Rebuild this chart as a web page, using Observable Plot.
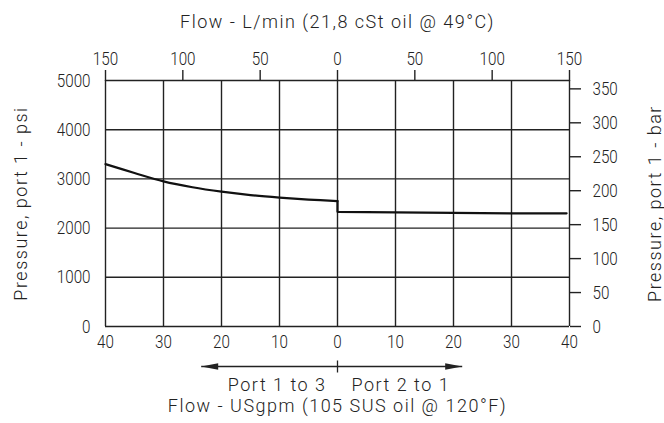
<!DOCTYPE html>
<html><head><meta charset="utf-8">
<script src="https://cdn.jsdelivr.net/npm/d3@7"></script>
<script src="https://cdn.jsdelivr.net/npm/@observablehq/plot@0.6"></script>
<style>
body{margin:0;background:#fff}
#chart svg{display:block;background:#fff}
#chart g[aria-label$="tick label"]{font-family:Roboto,sans-serif;font-weight:300;font-size:19px;fill:#222}
#chart g[aria-label="text"] text{letter-spacing:1.5px}
</style></head><body><div id="chart"></div>
<script>
// ---- data ----
const gpmTicks = [-40,-30,-20,-10,0,10,20,30,40];
const psiTicks = [0,1000,2000,3000,4000,5000];
const lpmTicks = [-150,-100,-50,0,50,100,150];
const barTicks = [0,50,100,150,200,250,300,350];
const port13Flow = [-40,-35,-30,-25,-20,-15,-10,-5,0];
const port13Psi  = [3300,3120,2950,2830,2740,2670,2620,2580,2550];
const port21Flow = [0,0,10,20,30,39.5];
const port21Psi  = [2550,2330,2320,2310,2300,2300];
const arrowFlow = [-23.5, 21.5];
const arrowLabels = ["Port 1 to 3","Port 2 to 1"];
// secondary-axis ratios as drawn in the reference
const LPM_PER_GPM = 3.75, PSI_PER_BAR = 13.8;
const titleTop = "Flow - L/min (21,8 cSt oil @ 49°C)";
const titleBottom = "Flow - USgpm (105 SUS oil @ 120°F)";
const labelLeft = "Pressure, port 1 - psi";
const labelRight = "Pressure, port 1 - bar";

const port13 = port13Flow.map((x,i)=>({x, y: port13Psi[i]}));
const port21 = port21Flow.map((x,i)=>({x, y: port21Psi[i]}));

const ink = "#222";
const headSymbol = {draw(ctx){ctx.moveTo(0,0);ctx.lineTo(-17,-3.2);ctx.lineTo(-17,3.2);ctx.closePath();}};
const barSymbol = {draw(ctx){ctx.moveTo(0,-6);ctx.lineTo(0,6);}};
const labelFont = {fontFamily:"Roboto,sans-serif", fontWeight:300, fontSize:18, fill:"#222", lineAnchor:"middle", textAnchor:"middle"};

const chart = Plot.plot({
  width: 664, height: 423,
  marginLeft: 105, marginRight: 95, marginTop: 80, marginBottom: 97,
  x: {domain: [-40, 40]},
  y: {domain: [0, 5000]},
  marks: [
    Plot.ruleX(gpmTicks, {stroke: ink, strokeWidth: 1.4}),
    Plot.ruleY(psiTicks, {stroke: ink, strokeWidth: 1.4}),
    Plot.line(port13, {x:"x", y:"y", curve:"catmull-rom", stroke:"#111", strokeWidth:2.2}),
    Plot.line(port21, {x:"x", y:"y", stroke:"#111", strokeWidth:2.2}),
    Plot.axisX({anchor:"bottom", ticks: gpmTicks, tickFormat: d=>String(Math.abs(d)), tickSize:0, tickPadding:8, label:null}),
    Plot.axisX({anchor:"top", ticks: lpmTicks.map(d=>d/LPM_PER_GPM), tickFormat: d=>String(Math.round(Math.abs(d*LPM_PER_GPM))), tickSize:11, tickPadding:5, stroke: ink, strokeWidth:1.4, label:null}),
    Plot.axisY({anchor:"left", ticks: psiTicks, tickFormat: d=>String(d), tickSize:0, tickPadding:15, label:null}),
    Plot.axisY({anchor:"right", ticks: barTicks.map(b=>b*PSI_PER_BAR), tickFormat: d=>String(Math.round(d/PSI_PER_BAR)), tickSize:11, tickPadding:12, stroke: ink, strokeWidth:1.4, label:null}),
    Plot.link(arrowFlow, {x1: ()=>0, x2: d=>d, y1: ()=>0, y2: ()=>0, dy: 40, stroke: ink, strokeWidth: 1.5}),
    Plot.dot(arrowFlow, {x: d=>d, y: ()=>0, dy: 40, symbol: headSymbol, rotate: d=> d<0 ? 180 : 0, fill: ink, stroke: null}),
    Plot.dot([0], {x: d=>d, y: ()=>0, dy: 40, symbol: barSymbol, stroke: ink, strokeWidth: 1.3}),
    Plot.text([arrowLabels[0]], {x: ()=>0, y: ()=>0, dy: 59, dx: -11, ...labelFont, textAnchor: "end"}),
    Plot.text([arrowLabels[1]], {x: ()=>0, y: ()=>0, dy: 59, dx: 14, ...labelFont, textAnchor: "start"}),
    Plot.text([titleTop], {frameAnchor: "top", dy: -58, ...labelFont}),
    Plot.text([titleBottom], {frameAnchor: "bottom", dy: 80, ...labelFont}),
    Plot.text([labelLeft], {frameAnchor: "left", rotate: -90, dx: -84, ...labelFont}),
    Plot.text([labelRight], {frameAnchor: "right", rotate: -90, dx: 86, ...labelFont})
  ]
});
// condensed tick numerals, as in the reference
d3.select(chart).selectAll('g[aria-label$="tick label"] text').each(function(){
  const t = this.getAttribute("transform");
  if (t) this.setAttribute("transform", t + " scale(0.8,1)");
  else {
    const x = +this.getAttribute("x") || 0, y = +this.getAttribute("y") || 0;
    this.removeAttribute("x"); this.removeAttribute("y");
    this.setAttribute("transform", `translate(${x},${y}) scale(0.8,1)`);
  }
});
document.getElementById("chart").append(chart);
</script></body></html>
